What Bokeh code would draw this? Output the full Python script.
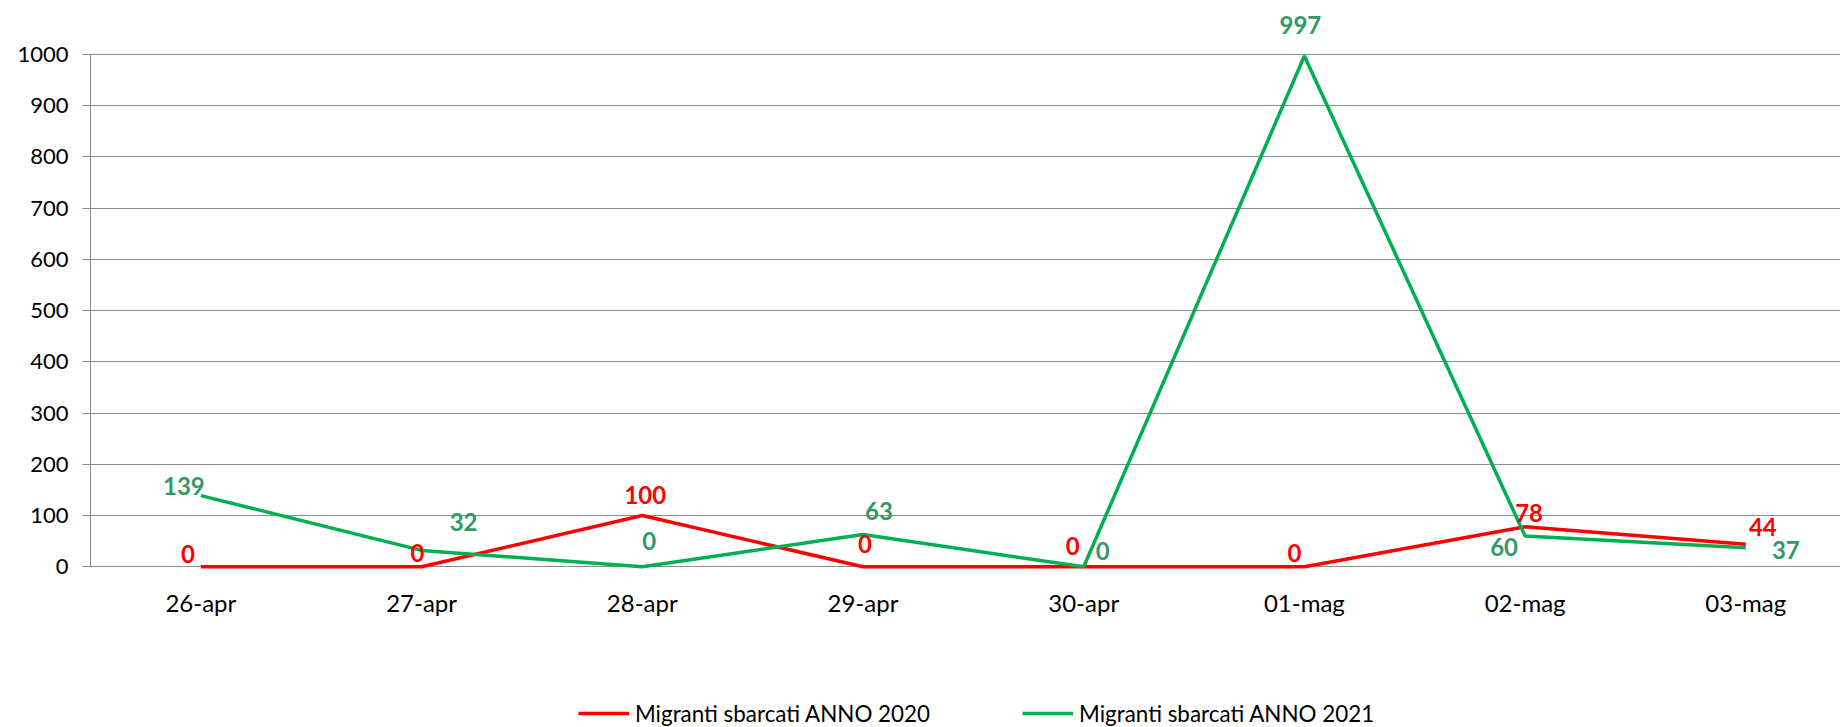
from bokeh.plotting import figure
from bokeh.models import ColumnDataSource, Range1d, FixedTicker, Legend, LegendItem
from bokeh.core.properties import value
from bokeh.embed import file_html
from bokeh.resources import INLINE

# ---- data ----
categories = ["26-apr", "27-apr", "28-apr", "29-apr", "30-apr", "01-mag", "02-mag", "03-mag"]
values_2020 = [0, 0, 100, 0, 0, 0, 78, 44]
values_2021 = [139, 32, 0, 63, 0, 997, 60, 37]
y_ticks = [0, 100, 200, 300, 400, 500, 600, 700, 800, 900, 1000]
series_names = ["Migranti sbarcati ANNO 2020", "Migranti sbarcati ANNO 2021"]

# ---- label placement (screen px offsets, style only) ----
dx_2020 = [-13, -4, 3, 2, -11, -10, 4, 17]
dy_2020 = [-13, -14, -21, -23, -21, -14, -14, -17]
dx_2021 = [-17, 42, 7, 16, 19, -4, -21, 40]
dy_2021 = [-10, -28, -26, -24, -16, -31, 11, 2]

RED = "#FF0000"
GREEN = "#00B050"
GREEN_LABEL = "#339966"
GRID = "#8C8C8C"
FONT = "Lato"

xs = list(range(len(categories)))

src20 = ColumnDataSource(dict(x=xs, y=values_2020, t=[str(v) for v in values_2020],
                              dx=dx_2020, dy=dy_2020))
src21 = ColumnDataSource(dict(x=xs, y=values_2021, t=[str(v) for v in values_2021],
                              dx=dx_2021, dy=dy_2021))

p = figure(width=1840, height=727, output_backend="svg", toolbar_location=None,
           title=None,
           x_range=Range1d(-0.5, 7.429), y_range=Range1d(-313.7, 1105.4),
           min_border_left=90, min_border_right=0, min_border_top=0, min_border_bottom=0)
p.outline_line_color = None
p.background_fill_color = "white"
p.border_fill_color = "white"

# axes
p.xaxis.fixed_location = 0
p.xaxis.ticker = FixedTicker(ticks=xs)
p.xaxis.major_label_overrides = {i: c for i, c in zip(xs, categories)}
p.xaxis.axis_line_color = None
p.xaxis.major_tick_line_color = None
p.xaxis.minor_tick_line_color = None
p.xaxis.major_label_standoff = 15
p.xaxis.major_label_text_font = FONT
p.xaxis.major_label_text_font_size = "24px"
p.xaxis.major_label_text_color = "black"

p.yaxis.ticker = FixedTicker(ticks=y_ticks)
p.yaxis.bounds = (0, 1000)
p.yaxis.axis_line_color = GRID
p.yaxis.major_tick_line_color = GRID
p.yaxis.major_tick_out = 8
p.yaxis.major_tick_in = 0
p.yaxis.minor_tick_line_color = None
p.yaxis.major_label_standoff = 14
p.yaxis.major_label_text_font = FONT
p.yaxis.major_label_text_font_size = "22px"
p.yaxis.major_label_text_color = "black"

p.xgrid.grid_line_color = None
p.ygrid.ticker = FixedTicker(ticks=y_ticks)
p.ygrid.grid_line_color = GRID
p.ygrid.grid_line_width = 1

# lines
r20 = p.line(x="x", y="y", source=src20, line_color=RED, line_width=3.5)
r21 = p.line(x="x", y="y", source=src21, line_color=GREEN, line_width=3.5)

# data labels
p.text(x="x", y="y", text="t", source=src20, x_offset="dx", y_offset="dy",
       text_align="center", text_baseline="middle", text_color=RED,
       text_font=value(FONT), text_font_style="bold", text_font_size="24px")
p.text(x="x", y="y", text="t", source=src21, x_offset="dx", y_offset="dy",
       text_align="center", text_baseline="middle", text_color=GREEN_LABEL,
       text_font=value(FONT), text_font_style="bold", text_font_size="24px")

legend = Legend(items=[LegendItem(label=series_names[0], renderers=[r20]),
                       LegendItem(label=series_names[1], renderers=[r21])],
                orientation="horizontal", location=(488, 0),
                border_line_color=None, background_fill_alpha=0,
                padding=0, margin=0, spacing=92,
                glyph_width=51, glyph_height=28, label_height=28, label_standoff=6,
                label_text_font=FONT, label_text_font_size="22.4px",
                label_text_color="black")
p.add_layout(legend, "center")

open("out.html", "w").write(file_html(p, INLINE))
